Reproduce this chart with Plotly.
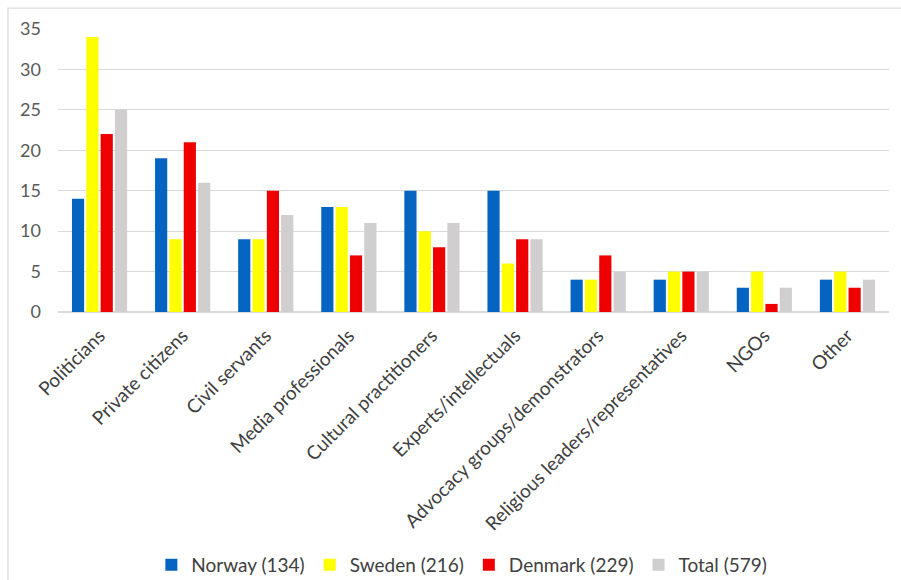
import plotly.graph_objects as go

categories = ["Politicians", "Private citizens", "Civil servants", "Media professionals",
              "Cultural practitioners", "Experts/intellectuals", "Advocacy groups/demonstrators",
              "Religious leaders/representatives", "NGOs", "Other"]
norway = [14, 19, 9, 13, 15, 15, 4, 4, 3, 4]
sweden = [34, 9, 9, 13, 10, 6, 4, 5, 5, 5]
denmark = [22, 21, 15, 7, 8, 9, 7, 5, 1, 3]
total = [25, 16, 12, 11, 11, 9, 5, 5, 3, 4]
series_names = ["Norway (134)", "Sweden (216)", "Denmark (229)", "Total (579)"]
colors = ["#0563c1", "#ffff00", "#ee0000", "#d0cece"]
y_ticks = [0, 5, 10, 15, 20, 25, 30, 35]

fig = go.Figure()
for name, vals, col in zip(series_names, [norway, sweden, denmark, total], colors):
    fig.add_trace(go.Bar(x=categories, y=vals, name=name, marker_color=col,
                         marker_line_width=0))

font = "Lato, 'Open Sans', sans-serif"
fig.update_layout(
    width=901, height=580,
    margin=dict(l=58, r=12, t=29, b=268),
    paper_bgcolor="white", plot_bgcolor="white",
    barmode="group", bargap=0.31, bargroupgap=0.15,
    font=dict(family=font, color="#404040"),
    showlegend=True,
    legend=dict(orientation="h", x=0.486, xanchor="center",
                yref="container", y=0.026, yanchor="middle",
                font=dict(size=19, color="#404040", family=font),
                itemwidth=30, traceorder="normal"),
    xaxis=dict(tickangle=-45, tickfont=dict(size=19, color="#404040", family=font),
               showgrid=False, showline=False, ticks="", zeroline=False, automargin=False,
               ticklabelstandoff=8),
    yaxis=dict(range=[0, 35], tickvals=y_ticks, tickfont=dict(size=18, color="#595959", family=font),
               showgrid=True, gridcolor="#d9d9d9", gridwidth=1.3, zeroline=True,
               zerolinecolor="#d9d9d9", zerolinewidth=1.5, showline=False, ticks="",
               ticklabelstandoff=16, automargin=False),
    shapes=[dict(type="rect", xref="paper", yref="paper", x0=-0.0602, x1=1.2,
                 y0=-1.2, y1=1.074, line=dict(color="#d9dde3", width=1.3), layer="below")],
)

fig.write_html("out.html")
